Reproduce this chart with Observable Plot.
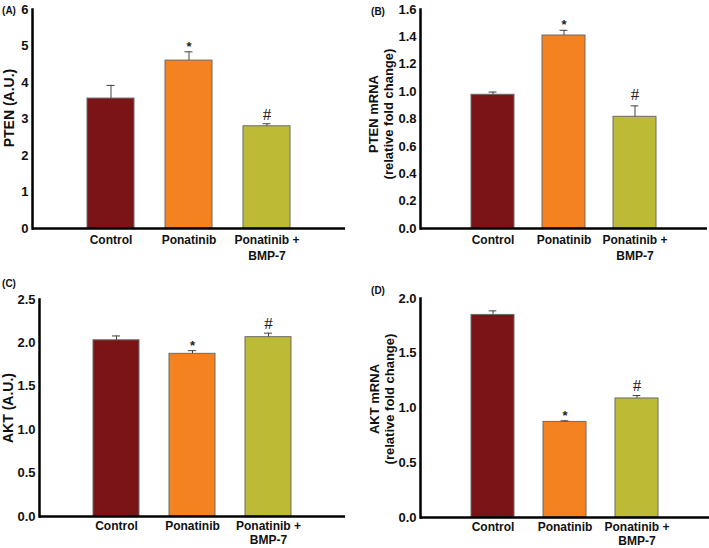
<!DOCTYPE html>
<html>
<head>
<meta charset="utf-8">
<script src="https://cdn.jsdelivr.net/npm/d3@7"></script>
<script src="https://cdn.jsdelivr.net/npm/@observablehq/plot@0.6"></script>
<style>
  html, body { margin: 0; padding: 0; background: #fff; }
  #wrap { position: relative; width: 709px; height: 548px; overflow: hidden; }
  .panel { position: absolute; }
</style>
</head>
<body>
<div id="wrap"></div>
<script>
// ---- data ----
const groups = ["Control", "Ponatinib", "Ponatinib +\nBMP-7"];
const signif = ["", "*", "#"];
const barColors = ["#7b1416", "#f58220", "#bdbb36"];

const ptenProtein = [3.56, 4.60, 2.80];
const ptenProteinErr = [0.36, 0.24, 0.07];
const ptenMrna = [0.977, 1.41, 0.816];
const ptenMrnaErr = [0.02, 0.038, 0.08];
const aktProtein = [2.03, 1.874, 2.066];
const aktProteinErr = [0.05, 0.037, 0.046];
const aktMrna = [1.85, 0.873, 1.087];
const aktMrnaErr = [0.037, 0.01, 0.027];

const ticksA = [0, 1, 2, 3, 4, 5, 6];
const ticksB = [0, 0.2, 0.4, 0.6, 0.8, 1.0, 1.2, 1.4, 1.6];
const ticksC = [0, 0.5, 1.0, 1.5, 2.0, 2.5];
const ticksD = [0, 0.5, 1.0, 1.5, 2.0];

function makePanel(cfg) {
  const rows = groups.map((g, i) => ({group: g, value: cfg.values[i], err: cfg.errs[i], top: cfg.values[i] + cfg.errs[i], sig: signif[i]}));
  const innerW = cfg.width - cfg.ml - cfg.mr;
  const bw = innerW / 4 * 0.6;
  const capInset = (bw - 8) / 2;
  const chart = Plot.plot({
    width: cfg.width,
    height: cfg.height,
    marginLeft: cfg.ml,
    marginRight: cfg.mr,
    marginTop: cfg.mt,
    marginBottom: cfg.mb,
    style: {fontFamily: "'Liberation Sans', Arial, sans-serif", fontSize: "12px", fontWeight: "bold", color: "#111", background: "#fff", overflow: "visible"},
    x: {domain: groups, paddingInner: 0.4, paddingOuter: 0.7, axis: null},
    y: {domain: cfg.domain, axis: null},
    color: {domain: groups, range: barColors},
    marks: [
      Plot.barY(rows, {x: "group", y: "value", fill: "group", stroke: "#6a6a6a", strokeWidth: 1}),
      Plot.ruleX(rows, {x: "group", y1: "value", y2: "top", stroke: "#444", strokeWidth: 1}),
      Plot.tickY(rows, {x: "group", y: "top", stroke: "#444", strokeWidth: 1, insetLeft: capInset, insetRight: capInset}),
      Plot.text(rows.filter(d => d.sig === "*"), {x: "group", y: "top", text: "sig", dy: cfg.starDy, fontSize: 13, fontWeight: "bold", fill: "#222"}),
      Plot.text(rows.filter(d => d.sig === "#"), {x: "group", y: "top", text: "sig", dy: cfg.hashDy, fontSize: 17, fontWeight: "normal", fontFamily: "'Liberation Serif', 'Times New Roman', serif", fill: "#222"}),
      Plot.axisY({ticks: cfg.ticks, tickFormat: cfg.fmt, tickSize: 0, tickPadding: 4, fontSize: 13, fontWeight: "bold", label: null}),
      Plot.axisX({tickSize: 0, tickPadding: 4, fontSize: 12, fontWeight: "bold", label: null, lineHeight: cfg.xLine}),
      Plot.frame({anchor: "left", strokeWidth: 2.5, stroke: "#000"}),
      Plot.ruleY([0], {strokeWidth: 2.5, stroke: "#000"}),
      Plot.text([cfg.ylabel], {frameAnchor: "left", rotate: -90, dx: cfg.labelDx, dy: cfg.labelDy, fontSize: cfg.labelSize, fontWeight: "bold", lineHeight: 1.15, textAnchor: "middle"}),
      Plot.text([cfg.letter], {frameAnchor: "top-left", dx: cfg.letterDx, dy: cfg.letterDy, fontSize: 10, fontWeight: "bold", textAnchor: "middle"})
    ]
  });
  const div = document.createElement("div");
  div.className = "panel";
  div.style.left = cfg.left + "px";
  div.style.top = cfg.top + "px";
  div.appendChild(chart);
  document.getElementById("wrap").appendChild(div);
}

makePanel({letter: "(A)", left: 0, top: 0, width: 354, height: 274, ml: 32, mr: 9, mt: 9, mb: 46, xLine: 1.35,
  values: ptenProtein, errs: ptenProteinErr, domain: [0, 6], ticks: ticksA, fmt: d3.format("d"),
  ylabel: "PTEN (A.U.)", labelSize: 14, labelDx: -24, labelDy: -11, letterDx: -23.5, letterDy: -3, starDy: -5, hashDy: -9});

makePanel({letter: "(B)", left: 354, top: 0, width: 355, height: 274, ml: 66, mr: 2, mt: 9, mb: 46, xLine: 1.35,
  values: ptenMrna, errs: ptenMrnaErr, domain: [0, 1.6], ticks: ticksB, fmt: d3.format(".1f"),
  ylabel: "PTEN mRNA\n(relative fold change)", labelSize: 13, labelDx: -40, labelDy: -5, letterDx: -42.5, letterDy: -1.5, starDy: -5, hashDy: -11});

makePanel({letter: "(C)", left: 0, top: 274, width: 354, height: 274, ml: 39, mr: 9, mt: 25, mb: 32, xLine: 1.15,
  values: aktProtein, errs: aktProteinErr, domain: [0, 2.5], ticks: ticksC, fmt: d3.format(".1f"),
  ylabel: "AKT (A.U.)", labelSize: 14, labelDx: -32, labelDy: 0, letterDx: -30.5, letterDy: -20, starDy: -5, hashDy: -10});

makePanel({letter: "(D)", left: 354, top: 274, width: 355, height: 274, ml: 66, mr: 0, mt: 24, mb: 31, xLine: 1.15,
  values: aktMrna, errs: aktMrnaErr, domain: [0, 2.0], ticks: ticksD, fmt: d3.format(".1f"),
  ylabel: "AKT mRNA\n(relative fold change)", labelSize: 13, labelDx: -39, labelDy: -9, letterDx: -42.5, letterDy: -12, starDy: -5, hashDy: -10});
</script>
</body>
</html>
